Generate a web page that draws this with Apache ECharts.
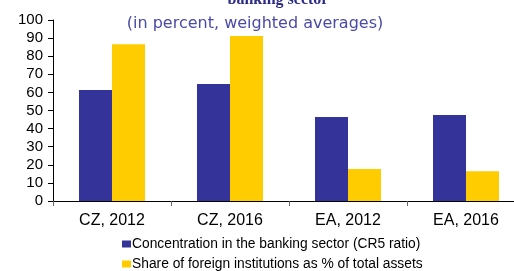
<!DOCTYPE html>
<html>
<head>
<meta charset="utf-8">
<script src="https://cdn.jsdelivr.net/npm/echarts@6/dist/echarts.min.js"></script>
<style>
  html, body { margin: 0; padding: 0; background: #fff; }
  #chart { width: 514px; height: 271px; }
</style>
</head>
<body>
<div id="chart"></div>
<script>
var categories = ["CZ, 2012", "CZ, 2016", "EA, 2012", "EA, 2016"];
var concentration = [61.3, 64.6, 46.4, 47.5];
var foreignShare = [86.6, 91.2, 17.7, 16.4];
var seriesNames = [
  "Concentration in the banking sector (CR5 ratio)",
  "Share of foreign institutions as % of total assets"
];

var chart = echarts.init(document.getElementById("chart"));
chart.setOption({
  animation: false,
  textStyle: { fontFamily: "Liberation Sans, Arial, sans-serif" },
  title: [
    {
      text: "banking sector",
      left: 273,
      textAlign: "center",
      top: -13,
      textStyle: { fontFamily: "Liberation Serif, serif", fontWeight: "bold", fontSize: 16, color: "#2b2b8a" }
    },
    {
      text: "(in percent, weighted averages)",
      left: 250,
      textAlign: "center",
      top: 11,
      textStyle: { fontFamily: "DejaVu Sans, sans-serif", fontWeight: "normal", fontSize: 16, color: "#4a4aa8" }
    }
  ],
  legend: {
    orient: "vertical",
    left: 122,
    top: 237,
    padding: 0,
    itemWidth: 9,
    itemHeight: 7,
    itemGap: 6,
    icon: "rect",
    textStyle: { fontSize: 13.8, color: "#000", padding: [0, 0, 0, -4] },
    data: seriesNames
  },
  grid: { left: 53, top: 20, width: 472, height: 181, outerBoundsMode: "none" },
  xAxis: {
    type: "category",
    data: categories,
    axisLine: { lineStyle: { color: "#000", width: 1 } },
    axisTick: { show: true, length: 5, lineStyle: { color: "#666" } },
    axisLabel: { color: "#000", fontSize: 16, margin: 12 }
  },
  yAxis: {
    type: "value",
    min: 0,
    max: 100,
    interval: 10,
    splitLine: { show: false },
    axisLine: { show: true, lineStyle: { color: "#000", width: 1 } },
    axisTick: { show: true, length: 5, lineStyle: { color: "#000" } },
    axisLabel: { color: "#000", fontSize: 15, margin: 10 }
  },
  series: [
    {
      name: seriesNames[0],
      type: "bar",
      data: concentration,
      barWidth: 33,
      barGap: "0%",
      itemStyle: { color: "#333399" }
    },
    {
      name: seriesNames[1],
      type: "bar",
      data: foreignShare,
      barWidth: 33,
      itemStyle: { color: "#ffcc00" }
    }
  ]
});
</script>
</body>
</html>
